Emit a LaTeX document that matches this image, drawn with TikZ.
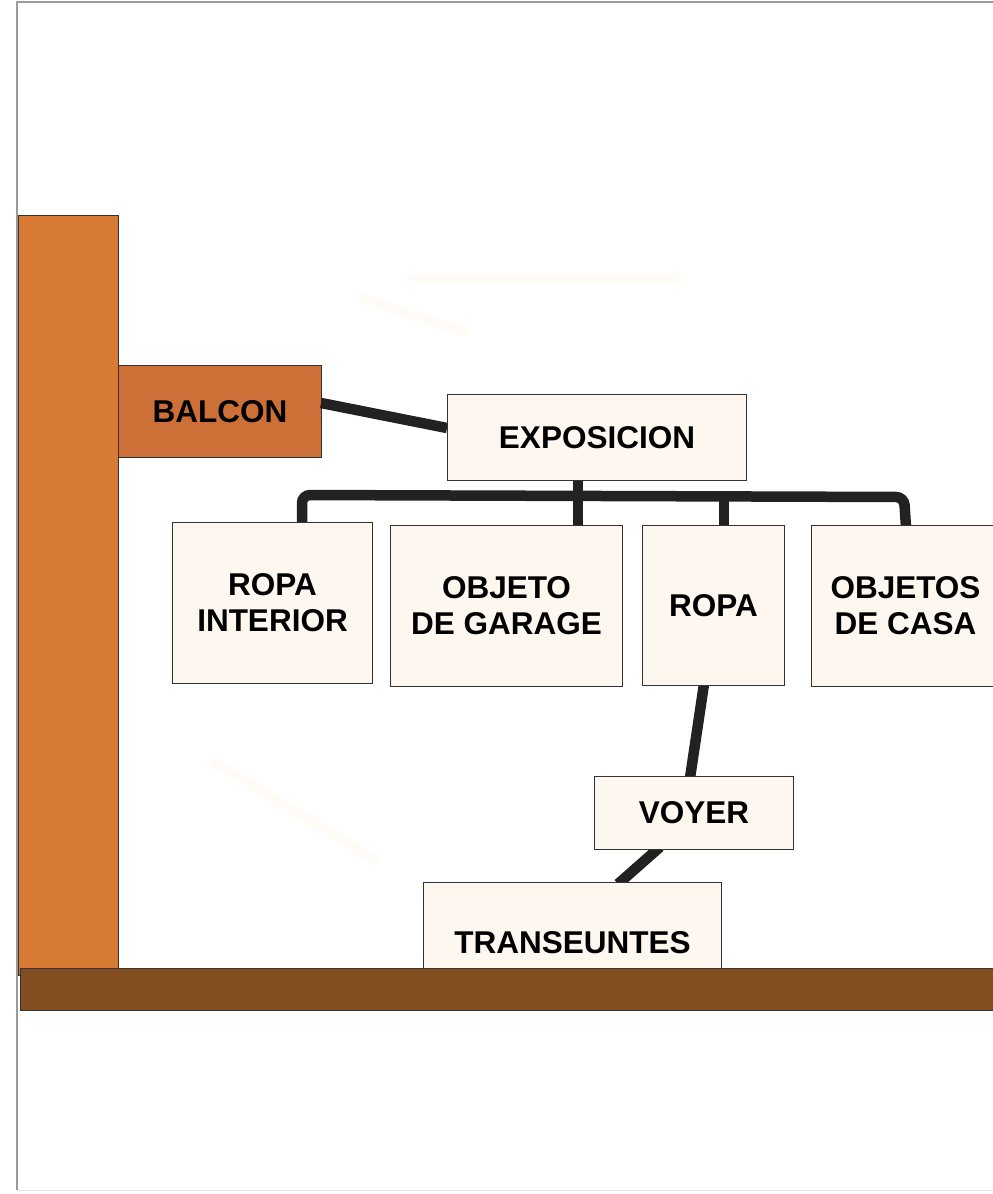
\documentclass[tikz,border=0pt]{standalone}
\usepackage{fontspec}
\setmainfont{Liberation Sans}
\begin{document}
\begin{tikzpicture}[x=1pt,y=-1pt,
  boxfill/.style={draw=black!80,line width=1pt,fill=boxcol,font=\bfseries\fontsize{31.5}{36}\selectfont,align=center,inner sep=0pt},
  link/.style={draw=linkcol,line width=10.5pt},
  ghost/.style={draw=orange!3,line width=9pt,line cap=round}]
\definecolor{postcol}{HTML}{D77B34}
\definecolor{balcol}{HTML}{CC7038}
\definecolor{floorcol}{HTML}{834D22}
\definecolor{boxcol}{HTML}{FDF7F0}
\definecolor{linkcol}{HTML}{222222}
\definecolor{framecol}{HTML}{9A9A9A}
\useasboundingbox (0,0) rectangle (993,1194);
\clip (0,0) rectangle (993,1194);
\fill[white] (0,0) rectangle (993,1194);
% page frame
\draw[framecol,line width=1.5pt] (17,1190) -- (17,2) -- (995,2);
\draw[black!10,line width=1pt] (17,1190) -- (995,1190);
% faint ghost strokes
\draw[ghost] (412,278) -- (678,278);
\draw[ghost] (362,298) -- (466,332);
\draw[ghost] (214,762) -- (376,860);
% post
\node[draw=black!80,line width=1pt,fill=postcol,minimum width=100pt,minimum height=760pt,anchor=north west,inner sep=0pt] (post) at (18,215) {};
% balcon
\node[boxfill,fill=balcol,minimum width=203pt,minimum height=92pt,anchor=north west] (balcon) at (118,365) {BALCON};
% connectors
\coordinate (busL) at (302,495);
\coordinate (busR) at (904,497);
\coordinate (busM) at (578,496);
\coordinate (busR2) at (724,496.5);
\draw[link] (321,403) -- (447,428);
\draw[link,rounded corners=8pt] (302,525) -- (busL) -- (busR) -- (906,527);
\draw[link] (578,478) -- (busM) -- (578,527);
\draw[link] (busR2) -- (724,527);
\draw[link] (704,684) -- (690,778);
\draw[link] (660,847) -- (618,884);
% boxes
\node[boxfill,minimum width=299pt,minimum height=86pt,anchor=north west] (expo) at (447,394) {EXPOSICION};
\node[boxfill,minimum width=200pt,minimum height=161pt,anchor=north west] (ri) at (172,522) {ROPA\\INTERIOR};
\node[boxfill,minimum width=232pt,minimum height=161pt,anchor=north west] (og) at (390,525) {OBJETO\\DE GARAGE};
\node[boxfill,minimum width=142pt,minimum height=160pt,anchor=north west] (ropa) at (642,525) {ROPA};
\node[boxfill,minimum width=188pt,minimum height=161pt,anchor=north west] (oc) at (811,525) {OBJETOS\\DE CASA};
\node[boxfill,minimum width=199pt,minimum height=73pt,anchor=north west] (voyer) at (594,776) {VOYER};
\node[boxfill,minimum width=298pt,minimum height=120pt,anchor=north west] (trans) at (423,882) {TRANSEUNTES};
% floor
\node[draw=black!80,line width=1pt,fill=floorcol,minimum width=990pt,minimum height=42pt,anchor=north west,inner sep=0pt] (floor) at (20,968) {};
\end{tikzpicture}
\end{document}
